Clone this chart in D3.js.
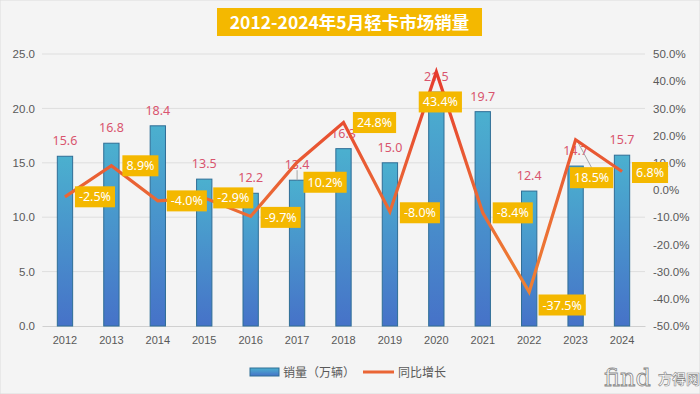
<!DOCTYPE html>
<html>
<head>
<meta charset="utf-8">
<script src="https://cdn.jsdelivr.net/npm/d3@7"></script>
<style>
  html, body { margin: 0; padding: 0; background: #f4f4f4; }
  svg { display: block; font-family: "Noto Sans", "Noto Sans CJK SC", sans-serif; }
</style>
</head>
<body>
<div id="chart"></div>
<script>
const years = ["2012","2013","2014","2015","2016","2017","2018","2019","2020","2021","2022","2023","2024"];
const sales = [15.6, 16.8, 18.4, 13.5, 12.2, 13.4, 16.3, 15.0, 21.5, 19.7, 12.4, 14.7, 15.7];
const growth = [-2.5, 8.9, -4.0, -2.9, -9.7, 10.2, 24.8, -8.0, 43.4, -8.4, -37.5, 18.5, 6.8];
const leftTicks = [0, 5, 10, 15, 20, 25];
const rightTicks = [-50, -40, -30, -20, -10, 0, 10, 20, 30, 40, 50];
// label box offsets from the line point (dx, dy of box centre)
const labelOffsets = [[30,0],[29,0],[29,0],[29,0],[30,1],[28,20],[31,0],[30,1],[4,30],[30,0],[33,13],[16,38],[28,1]];

const width = 700, height = 394;
const plot = {left: 42, right: 645, top: 54, bottom: 326};

const svg = d3.select("#chart").append("svg")
    .attr("width", width).attr("height", height);

svg.append("rect").attr("width", width).attr("height", height)
    .attr("fill", "#f4f4f4").attr("stroke", "#dcdcdc");

const defs = svg.append("defs");
const barGrad = defs.append("linearGradient").attr("id", "barGrad")
    .attr("x1", 0).attr("y1", 0).attr("x2", 0).attr("y2", 1);
barGrad.append("stop").attr("offset", "0%").attr("stop-color", "#4bb0cf");
barGrad.append("stop").attr("offset", "100%").attr("stop-color", "#4672c8");

const lineGrad = defs.append("linearGradient").attr("id", "lineGrad")
    .attr("gradientUnits", "userSpaceOnUse")
    .attr("x1", 0).attr("y1", plot.top).attr("x2", 0).attr("y2", plot.bottom);
lineGrad.append("stop").attr("offset", "0%").attr("stop-color", "#e5352c");
lineGrad.append("stop").attr("offset", "50%").attr("stop-color", "#ea6535");
lineGrad.append("stop").attr("offset", "100%").attr("stop-color", "#f08a32");

const x = d3.scaleBand().domain(years).range([plot.left, plot.right])
    .paddingInner(0.67).paddingOuter(0.33);
const y = d3.scaleLinear().domain([0, 25]).range([plot.bottom, plot.top]);
const y2 = d3.scaleLinear().domain([-50, 50]).range([plot.bottom, plot.top]);
const cx = d => x(d) + x.bandwidth() / 2;

// title
svg.append("rect").attr("x", 217).attr("y", 8).attr("width", 265).attr("height", 28)
    .attr("fill", "#f4b800");
svg.append("text").attr("x", 349.5).attr("y", 28.5).attr("text-anchor", "middle")
    .attr("fill", "#fff").attr("font-weight", "bold").attr("font-size", 17.5)
    .attr("font-family", "'Noto Sans CJK SC', sans-serif")
    .text("2012-2024年5月轻卡市场销量");

// gridlines
svg.append("g").selectAll("line").data(leftTicks.slice(1)).enter().append("line")
    .attr("x1", plot.left).attr("x2", plot.right)
    .attr("y1", d => y(d)).attr("y2", d => y(d))
    .attr("stroke", "#dedede").attr("stroke-width", 1);

// left axis
const yAxis = svg.append("g").attr("transform", `translate(${plot.left},0)`)
    .call(d3.axisLeft(y).tickValues(leftTicks).tickFormat(d3.format(".1f")).tickSize(0).tickPadding(7));
yAxis.select(".domain").remove();
yAxis.selectAll("text").attr("fill", "#595959").attr("font-size", 11.5);

// right axis
const y2Axis = svg.append("g").attr("transform", `translate(${plot.right},0)`)
    .call(d3.axisRight(y2).tickValues(rightTicks).tickFormat(d => d.toFixed(1) + "%").tickSize(0).tickPadding(8));
y2Axis.select(".domain").remove();
y2Axis.selectAll("text").attr("fill", "#595959").attr("font-size", 11.5);

// x axis
const xAxis = svg.append("g").attr("transform", `translate(0,${plot.bottom})`)
    .call(d3.axisBottom(x).tickSize(0).tickPadding(10));
xAxis.select(".domain").attr("stroke", "#d0d0d0");
xAxis.selectAll("text").attr("fill", "#595959").attr("font-size", 11);

// bars
svg.append("g").selectAll("rect").data(sales).enter().append("rect")
    .attr("x", (d, i) => x(years[i]))
    .attr("y", d => y(d))
    .attr("width", x.bandwidth())
    .attr("height", d => y(0) - y(d))
    .attr("fill", "url(#barGrad)")
    .attr("stroke", "#2f6e96").attr("stroke-width", 1);

// bar labels
svg.append("g").selectAll("text").data(sales).enter().append("text")
    .attr("x", (d, i) => cx(years[i]))
    .attr("y", d => y(d) - 11)
    .attr("text-anchor", "middle")
    .attr("fill", "#d9546e").attr("font-size", 12.5)
    .text(d => d.toFixed(1));

// leader lines (2017 bar label, 2023 growth label)
svg.append("line")
    .attr("x1", cx("2017")).attr("x2", cx("2017"))
    .attr("y1", y(sales[5]) - 10).attr("y2", y(sales[5]))
    .attr("stroke", "#a6a6a6").attr("stroke-width", 1);
svg.append("line")
    .attr("x1", cx("2023") + 2).attr("y1", y2(growth[11]) + 2)
    .attr("x2", cx("2023") + labelOffsets[11][0]).attr("y2", y2(growth[11]) + labelOffsets[11][1] - 10)
    .attr("stroke", "#a6a6a6").attr("stroke-width", 1);

// growth line
const line = d3.line()
    .x((d, i) => cx(years[i]))
    .y(d => y2(d));
svg.append("path").datum(growth)
    .attr("d", line)
    .attr("fill", "none")
    .attr("stroke", "url(#lineGrad)")
    .attr("stroke-width", 3.2)
    .attr("stroke-linejoin", "miter");

// growth labels
const lbl = svg.append("g").selectAll("g").data(growth).enter().append("g")
    .attr("transform", (d, i) => `translate(${cx(years[i]) + labelOffsets[i][0]},${y2(d) + labelOffsets[i][1]})`);
lbl.append("text")
    .attr("text-anchor", "middle").attr("dy", "0.36em")
    .attr("fill", "#fff").attr("font-size", 12.5)
    .text(d => d.toFixed(1) + "%");
lbl.each(function() {
  const g = d3.select(this);
  const bb = g.select("text").node().getBBox();
  g.insert("rect", "text")
    .attr("x", bb.x - 4).attr("y", -10.5)
    .attr("width", bb.width + 8).attr("height", 21)
    .attr("fill", "#f4b800");
});

// legend
const legend = svg.append("g").attr("transform", "translate(250,372)");
legend.append("rect").attr("x", 0).attr("y", -4).attr("width", 29).attr("height", 8)
    .attr("fill", "url(#barGrad)").attr("stroke", "#2f6e96");
legend.append("text").attr("x", 33).attr("y", 4.5).attr("fill", "#595959").attr("font-size", 12)
    .attr("font-family", "'Noto Sans CJK SC', sans-serif").text("销量（万辆）");
legend.append("line").attr("x1", 113).attr("x2", 144).attr("y1", 0).attr("y2", 0)
    .attr("stroke", "#ea6535").attr("stroke-width", 3);
legend.append("text").attr("x", 148).attr("y", 4.5).attr("fill", "#595959").attr("font-size", 12)
    .attr("font-family", "'Noto Sans CJK SC', sans-serif").text("同比增长");

// watermark
const wm = svg.append("g").attr("transform", "translate(604,386)");
wm.append("text").attr("x", 0).attr("y", 0).attr("font-size", 24).attr("font-family", "'DejaVu Serif', serif")
    .attr("fill", "#fff").attr("stroke", "#8a8a8a").attr("stroke-width", 0.8).text("find");
wm.append("text").attr("x", 54).attr("y", -2).attr("font-size", 14).attr("font-weight", "bold")
    .attr("font-family", "'Noto Sans CJK SC', sans-serif")
    .attr("fill", "#fff").attr("stroke", "#8a8a8a").attr("stroke-width", 0.6).text("方得网");
</script>
</body>
</html>
